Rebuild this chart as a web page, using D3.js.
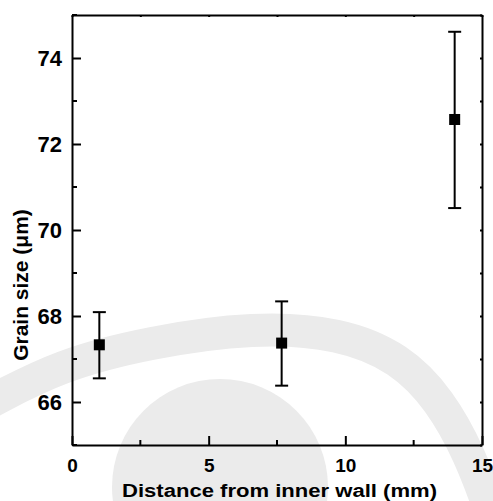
<!DOCTYPE html>
<html>
<head>
<meta charset="utf-8">
<script src="https://cdn.jsdelivr.net/npm/d3@7"></script>
<style>
  body { margin: 0; background: #fff; }
  svg { display: block; }
  text { font-family: "Liberation Sans", Arial, sans-serif; font-weight: bold; fill: #000; }
</style>
</head>
<body>
<svg id="chart" width="493" height="501"></svg>
<script>
const WIDTH = 493;
const HEIGHT = 501;
const margin = {top: 15, right: 11, bottom: 56, left: 72};

// distance from inner wall (mm), grain size (um), error bars
const distance = [1, 7.67, 14];
const grainSize = [67.33, 67.37, 72.57];
const errLow = [66.55, 66.38, 70.51];
const errHigh = [68.09, 68.34, 74.61];

const xMajor = [0, 5, 10, 15];
const xMinor = [2.5, 7.5, 12.5];
const yMajor = [66, 68, 70, 72, 74];
const yMinor = [65, 67, 69, 71, 73, 75];

const svg = d3.select('#chart');
const w = WIDTH - margin.left - margin.right;
const h = HEIGHT - margin.top - margin.bottom;

// faint logo watermark behind the plot (pixel space)
const wmBand = [[-10, 402], [60, 365], [150, 342], [255, 327], [340, 333], [400, 358], [440, 400], [470, 455], [490, 510]];
const wm = svg.append('g').attr('class', 'watermark');
wm.append('path')
  .attr('d', d3.line().curve(d3.curveBasis)(wmBand))
  .style('fill', 'none').style('stroke', '#ebebeb').style('stroke-width', 33);
wm.append('circle')
  .attr('cx', 220).attr('cy', 487).attr('r', 108)
  .style('fill', '#ebebeb');

const x = d3.scaleLinear().domain([0, 15]).range([0, w]);
const y = d3.scaleLinear().domain([65, 75]).range([h, 0]);

const g = svg.append('g')
  .attr('transform', 'translate(' + margin.left + ',' + margin.top + ')');

function styleAxis(sel) {
  sel.select('.domain').style('stroke', '#000').style('stroke-width', 2);
  sel.selectAll('line').style('stroke', '#000').style('stroke-width', 2);
}

// bottom axis
const xAxis = g.append('g').attr('transform', 'translate(0,' + h + ')');
xAxis.call(d3.axisBottom(x).tickValues(xMajor).tickFormat(d3.format('d'))
  .tickSizeInner(-9).tickSizeOuter(0).tickPadding(14));
xAxis.selectAll('text').style('font-size', '19px');
xAxis.call(styleAxis);
xAxis.selectAll('.minor').data(xMinor).enter().append('line')
  .attr('x1', d => x(d)).attr('x2', d => x(d))
  .attr('y1', 0).attr('y2', -5)
  .style('stroke', '#000').style('stroke-width', 2);

// left axis
const yAxis = g.append('g');
yAxis.call(d3.axisLeft(y).tickValues(yMajor).tickFormat(d3.format('d'))
  .tickSizeInner(-9).tickSizeOuter(0).tickPadding(10));
yAxis.selectAll('text').style('font-size', '22px');
yAxis.call(styleAxis);
yAxis.selectAll('.minor').data(yMinor).enter().append('line')
  .attr('y1', d => y(d)).attr('y2', d => y(d))
  .attr('x1', 0).attr('x2', 5)
  .style('stroke', '#000').style('stroke-width', 2);

// top and right frame with small ticks
const topAxis = g.append('g');
topAxis.call(d3.axisTop(x).tickValues(xMajor.concat(xMinor)).tickFormat('')
  .tickSizeInner(-2).tickSizeOuter(0));
topAxis.call(styleAxis);
const rightAxis = g.append('g').attr('transform', 'translate(' + w + ',0)');
rightAxis.call(d3.axisRight(y).tickValues(yMajor.concat(yMinor)).tickFormat('')
  .tickSizeInner(-2).tickSizeOuter(0));
rightAxis.call(styleAxis);

// error bars
const pts = distance.map((d, i) => ({x: d, y: grainSize[i], lo: errLow[i], hi: errHigh[i]}));
const bars = g.selectAll('.err').data(pts).enter().append('g').attr('class', 'err');
bars.append('line')
  .attr('x1', d => x(d.x)).attr('x2', d => x(d.x))
  .attr('y1', d => y(d.lo)).attr('y2', d => y(d.hi));
bars.append('line')
  .attr('x1', d => x(d.x) - 6.5).attr('x2', d => x(d.x) + 6.5)
  .attr('y1', d => y(d.hi)).attr('y2', d => y(d.hi));
bars.append('line')
  .attr('x1', d => x(d.x) - 6.5).attr('x2', d => x(d.x) + 6.5)
  .attr('y1', d => y(d.lo)).attr('y2', d => y(d.lo));
bars.selectAll('line').style('stroke', '#000').style('stroke-width', 2);

g.selectAll('.pt').data(pts).enter().append('rect')
  .attr('class', 'pt')
  .attr('x', d => x(d.x) - 5.5).attr('y', d => y(d.y) - 5.5)
  .attr('width', 11).attr('height', 11)
  .style('fill', '#000');

// axis titles
svg.append('text')
  .attr('x', 122).attr('y', 497)
  .attr('textLength', 315).attr('lengthAdjust', 'spacingAndGlyphs')
  .style('font-size', '18px')
  .text('Distance from inner wall (mm)');

svg.append('text')
  .attr('transform', 'translate(28,285) rotate(-90)')
  .attr('text-anchor', 'middle')
  .style('font-size', '21px')
  .text('Grain size (\u03bcm)');
</script>
</body>
</html>
